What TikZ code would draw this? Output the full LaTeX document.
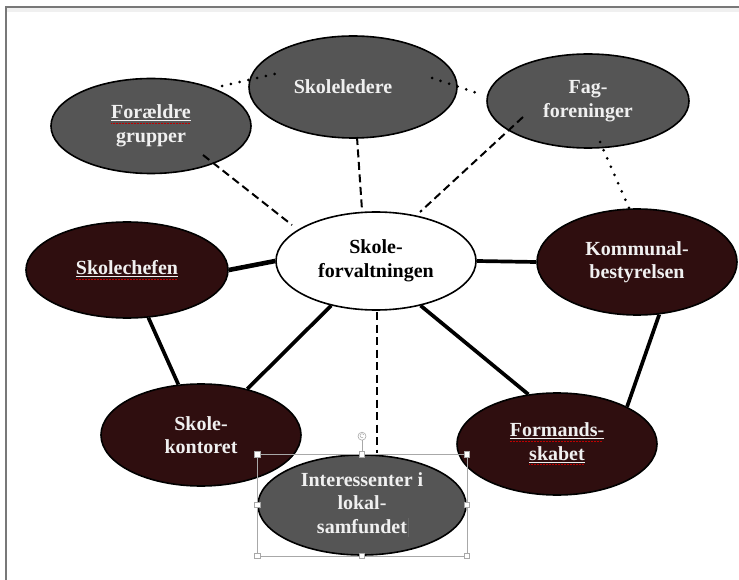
\documentclass[tikz,border=0pt]{standalone}
\usepackage{fontspec}
\setmainfont{Liberation Serif}
\usetikzlibrary{shapes.geometric, calc}
\definecolor{bubblegray}{RGB}{85,85,85}
\definecolor{bubbledark}{RGB}{47,14,15}
\definecolor{handlegray}{RGB}{168,168,168}
\definecolor{framegray}{RGB}{120,120,120}

% white underline with the red spell-check dots under it
\newcommand{\spellerr}[1]{\setbox0\hbox{#1}%
  \rlap{\textcolor{red!75!black}{\leaders\hbox{\rule[-4.4pt]{0.9pt}{0.6pt}\kern0.6pt}\hskip\wd0}}\underline{#1}}

\begin{document}
\begin{tikzpicture}[x=1pt, y=-1pt,
    bubble/.style={ellipse, draw=black, line width=1.6pt, inner sep=0pt, align=center,
        text=white!94!black, font=\fontsize{20}{23.5}\selectfont\bfseries},
    graybubble/.style={bubble, fill=bubblegray},
    darkbubble/.style={bubble, fill=bubbledark},
    whitebubble/.style={bubble, fill=white, text=black},
    tie/.style={line width=3.7pt},
    dashline/.style={line width=2pt, dash pattern=on 8pt off 4.5pt},
    dotline/.style={line width=3pt, line cap=round, dash pattern=on 0pt off 9pt},
    handle/.style={draw=handlegray, fill=white, line width=0.6pt}]
    \useasboundingbox (0,0) rectangle (739,580);

    % page frame
    \fill[gray!12] (7,8) rectangle (739,12);
    \draw[framegray, line width=1.3pt] (739,7) -- (6,7) -- (6,580);

    % upper row
    \node[graybubble, minimum width=200pt, minimum height=95pt] (frg) at (151,126) {\spellerr{Forældre}\\grupper};
    \node[graybubble, minimum width=208pt, minimum height=102pt] (skl) at (353,87) {Skoleledere\hspace*{20pt}};
    \node[graybubble, minimum width=202pt, minimum height=94pt] (fag) at (588,101) {Fag-\\foreninger};

    % middle row
    \node[whitebubble, minimum width=200pt, minimum height=98pt] (sfv) at (376,261) {Skole-\\forvaltningen};
    \node[darkbubble, minimum width=202pt, minimum height=96pt] (sch) at (127,270) {\spellerr{Skolechefen}};
    \node[darkbubble, minimum width=200pt, minimum height=106pt] (kom) at (637,262) {Kommunal-\\bestyrelsen};

    % lower row
    \node[darkbubble, minimum width=200pt, minimum height=102pt] (sko) at (201,435) {Skole-\\kontoret};
    \node[darkbubble, minimum width=200pt, minimum height=102pt] (frm) at (557,444) {\spellerr{Formands-}\\\spellerr{skabet}};
    \node[graybubble, minimum width=208pt, minimum height=100pt] (int) at (362,505)
        {Interessenter i\\lokal-\\samfundet\rlap{\kern1pt\textcolor{black!60}{\rule[-4pt]{0.6pt}{19pt}}}};

    % solid ties
    \draw[tie, line width=4.6pt] (sch.east) -- (sfv.west);
    \draw[tie] (sfv.east) -- (kom.west);
    \draw[tie] (sch) -- (sko);
    \draw[tie] (sfv) -- (sko);
    \draw[tie] (sfv.-45) -- (frm.120);
    \draw[tie] (kom.-67) -- (frm.28);

    % dashed links
    \draw[dashline] ($(frg)+(52,29)$) -- ($(sfv)+(-84,-36)$);
    \draw[dashline] ($(skl)+(4,50)$) -- ($(sfv)+(-14,-51)$);
    \draw[dashline] ($(fag)+(-65,16)$) -- ($(sfv)+(44,-49)$);
    \draw[dashline] ($(sfv)+(1,51)$) -- ($(int)+(15,-52)$);

    % dotted links
    \draw[dotline] ($(frg)+(71,-40)$) -- ($(skl)+(-70,-15)$);
    \draw[dotline] ($(skl)+(79,-9)$) -- ($(fag)+(-105,-6)$);
    \draw[dotline] ($(fag)+(12,41)$) -- ($(kom)+(-8,-54)$);

    % selection frame round the lower grey bubble
    \draw[handlegray, line width=0.6pt] (int.west |- int.north) rectangle (int.east |- int.south);
    \draw[handlegray, line width=0.6pt] (int.north) -- ($(int.north)+(0,-14)$);
    \draw[handle] ($(int.north)+(0,-18)$) circle (4pt);
    \draw[handlegray, line width=0.5pt] ($(int.north)+(1.8,-19.5)$) arc (30:300:2pt);
    \foreach \p in {(int.west |- int.north), (int.north), (int.east |- int.north), (int.east),
                    (int.east |- int.south), (int.south), (int.west |- int.south), (int.west)}
        \draw[handle] \p +(-2.6,-2.6) rectangle +(2.6,2.6);
\end{tikzpicture}
\end{document}
